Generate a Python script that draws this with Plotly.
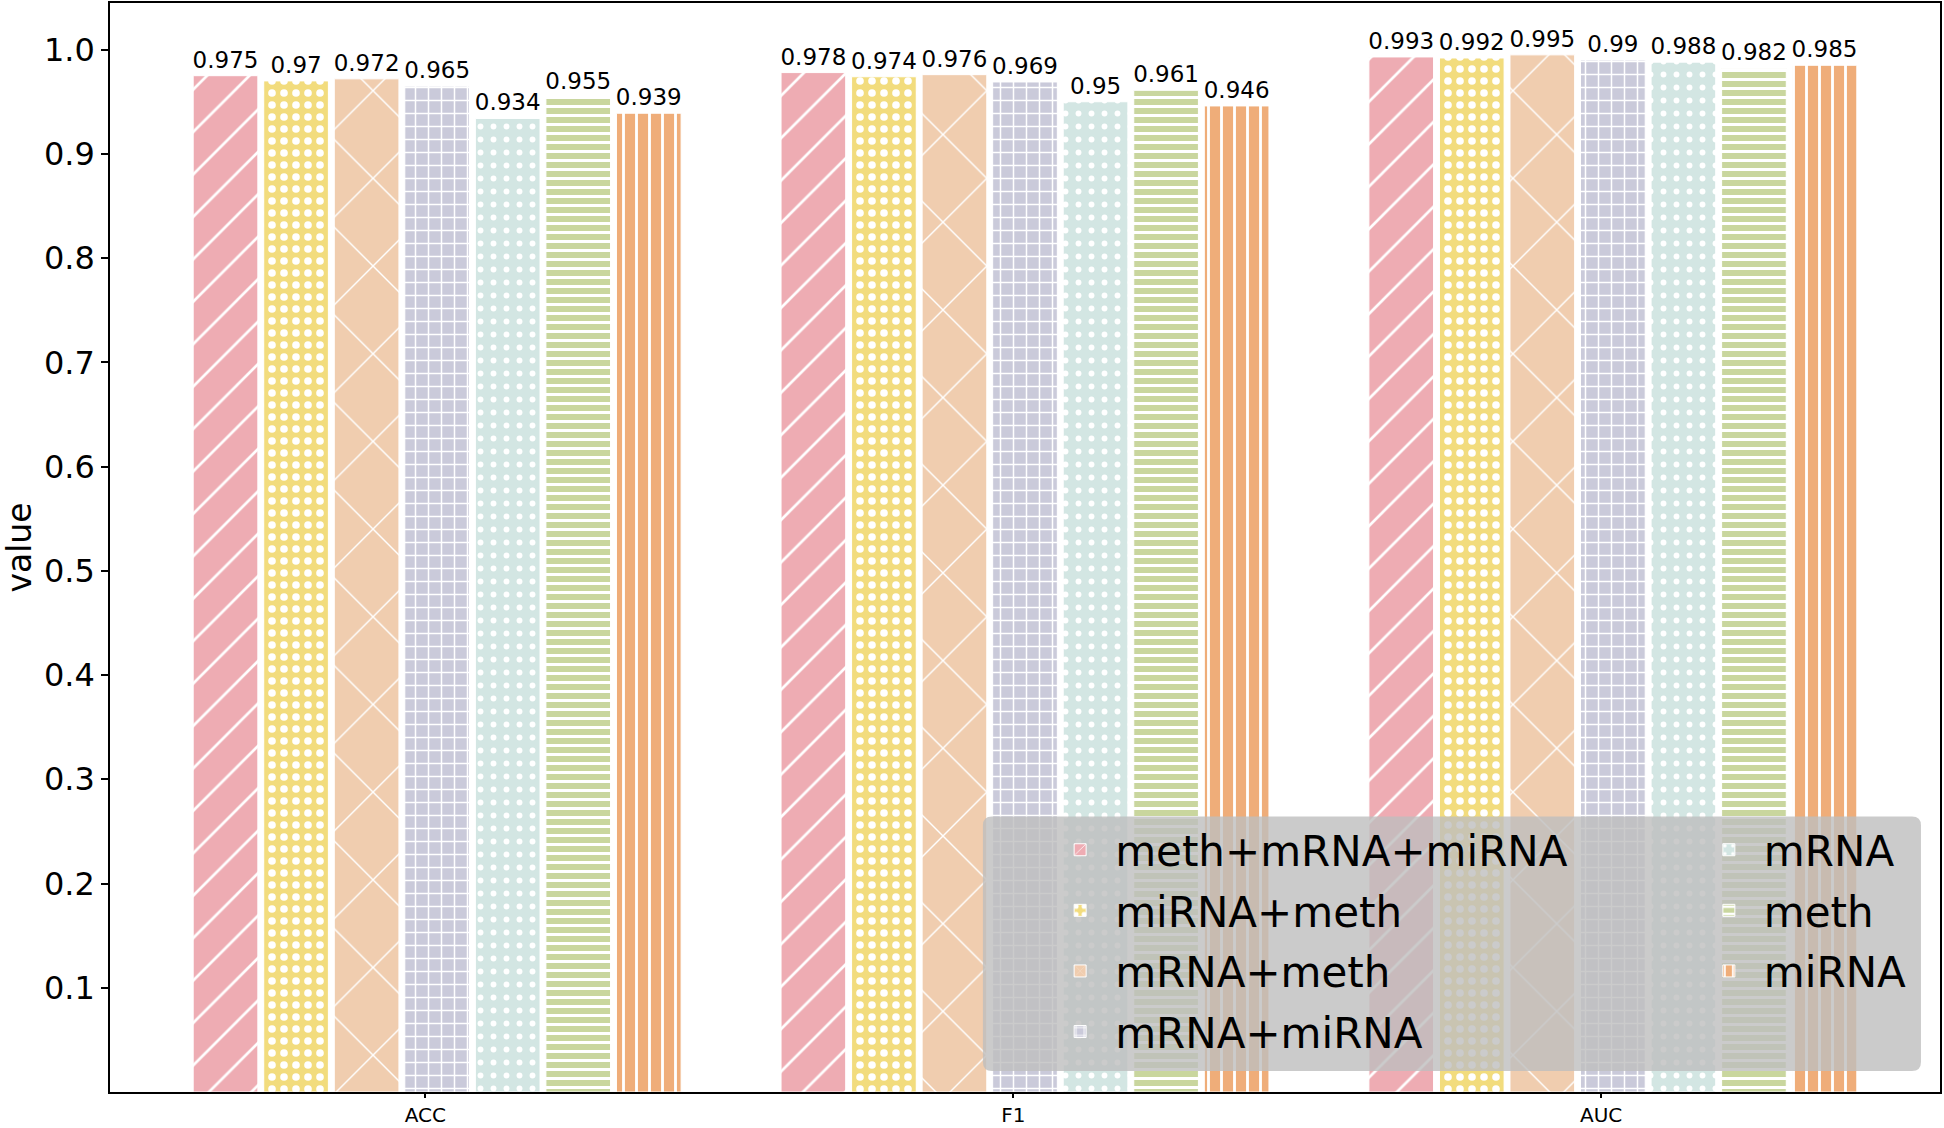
import plotly.graph_objects as go

# ---- data ----
categories = ["ACC", "F1", "AUC"]
series_names = ["meth+mRNA+miRNA", "miRNA+meth", "mRNA+meth", "mRNA+miRNA", "mRNA", "meth", "miRNA"]
acc_values = [0.975, 0.97, 0.972, 0.965, 0.934, 0.955, 0.939]
f1_values = [0.978, 0.974, 0.976, 0.969, 0.95, 0.961, 0.946]
auc_values = [0.993, 0.992, 0.995, 0.99, 0.988, 0.982, 0.985]
y_tick_values = [0.1, 0.2, 0.3, 0.4, 0.5, 0.6, 0.7, 0.8, 0.9, 1.0]
y_tick_labels = ["0.1", "0.2", "0.3", "0.4", "0.5", "0.6", "0.7", "0.8", "0.9", "1.0"]

# ---- styles ----
colors = ["#EEACB3", "#F2DC7D", "#F0CDAF", "#CACADA", "#D3E6E3", "#C9D69E", "#EFAD79"]
patterns = [
    dict(shape="/", size=30, solidity=0.09),
    dict(shape=".", size=12, solidity=0.32),
    dict(shape="x", size=62, solidity=0.045),
    dict(shape="+", size=13, solidity=0.22),
    dict(shape=".", size=13, solidity=0.16),
    dict(shape="-", size=9, solidity=0.33),
    dict(shape="|", size=13, solidity=0.22),
]
legend_ids = ["legend", "legend", "legend", "legend", "legend2", "legend2", "legend2"]
bar_pitch = 0.12
bar_width = 0.11
group_start = -0.34
FONT = "DejaVu Sans"

fig = go.Figure()
cat_index = list(range(len(categories)))
for k, name in enumerate(series_names):
    vals = [acc_values[k], f1_values[k], auc_values[k]]
    xs = [c + group_start + bar_pitch * k for c in cat_index]
    pat = dict(patterns[k])
    pat.update(fgcolor="white", bgcolor=colors[k], fillmode="replace")
    fig.add_trace(go.Bar(
        x=xs, y=vals, width=bar_width, name=name,
        marker=dict(color=colors[k], pattern=pat, line=dict(color="white", width=1)),
        text=[str(v) for v in vals], textposition="outside",
        textfont=dict(family=FONT, size=23, color="black"),
        constraintext="none", cliponaxis=False,
        legend=legend_ids[k], legendgroup=name,
    ))

# legend background (rounded, semi-transparent grey)
x0, x1, y0, y1 = 0.477, 0.9896, 0.0192, 0.2529
rx, ry = 9 / 1830, 9 / 1091
path = (f"M {x0+rx},{y0} L {x1-rx},{y0} Q {x1},{y0} {x1},{y0+ry} "
        f"L {x1},{y1-ry} Q {x1},{y1} {x1-rx},{y1} L {x0+rx},{y1} Q {x0},{y1} {x0},{y1-ry} "
        f"L {x0},{y0+ry} Q {x0},{y0} {x0+rx},{y0} Z")
fig.add_shape(type="path", path=path, xref="paper", yref="paper",
              fillcolor="rgba(190,190,190,0.8)", line=dict(width=0), layer="above")

legend_font = dict(family=FONT, size=42, color="black")
fig.update_layout(
    width=1944, height=1128,
    margin=dict(l=110, r=4, t=3, b=36, autoexpand=False),
    plot_bgcolor="white", paper_bgcolor="white",
    barmode="overlay",
    font=dict(family=FONT, color="black"),
    showlegend=True,
    legend=dict(x=0.511, y=0.2535, xanchor="left", yanchor="top",
                bgcolor="rgba(0,0,0,0)", font=legend_font,
                itemwidth=60, tracegroupgap=3),
    legend2=dict(x=0.8655, y=0.2535, xanchor="left", yanchor="top",
                 bgcolor="rgba(0,0,0,0)", font=legend_font,
                 itemwidth=60, tracegroupgap=3),
    xaxis=dict(range=[-0.5365, 2.5765], tickmode="array", tickvals=cat_index, ticktext=categories,
               showline=True, mirror=True, linecolor="black", linewidth=1.5,
               ticks="outside", ticklen=4, tickwidth=1.5, tickcolor="black",
               tickfont=dict(family=FONT, size=20), showgrid=False, zeroline=False),
    yaxis=dict(range=[0, 1.04475], tickmode="array", tickvals=y_tick_values, ticktext=y_tick_labels,
               showline=True, mirror=True, linecolor="black", linewidth=1.5,
               ticks="outside", ticklen=7, tickwidth=1.5, tickcolor="black",
               tickfont=dict(family=FONT, size=32), showgrid=False, zeroline=False,
               title=dict(text="value", font=dict(family=FONT, size=33), standoff=9)),
)

fig.write_html("out.html", config={"displayModeBar": False},
               post_script="document.body.style.margin='0';document.body.style.overflow='hidden';")
